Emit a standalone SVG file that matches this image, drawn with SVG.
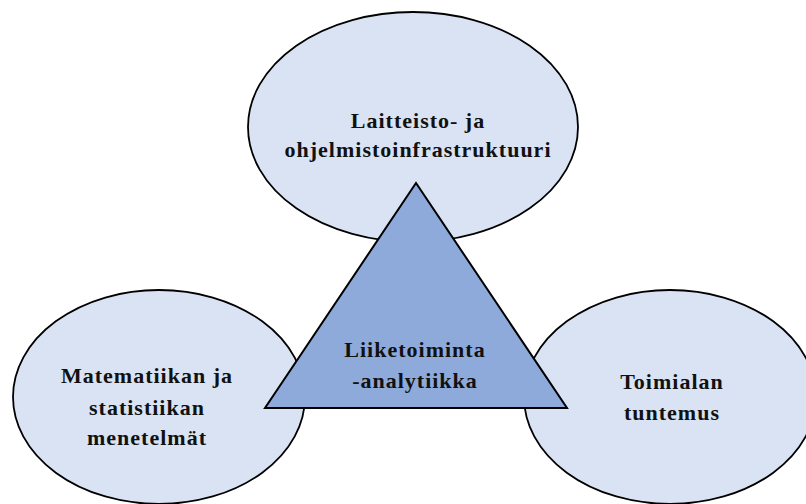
<svg xmlns="http://www.w3.org/2000/svg" width="806" height="504" viewBox="0 0 806 504">
<style>
.ell{fill:#dae3f3;stroke:#000;stroke-width:1.8}
.tri{fill:#8eaadb;stroke:#000;stroke-width:2;stroke-linejoin:miter}
.t{font-family:"Liberation Serif","Times New Roman",serif;font-weight:bold;font-size:22px;letter-spacing:1px;fill:#111;text-anchor:middle}
</style>
<rect width="806" height="504" fill="#fff"/>
<g id="node-top">
<ellipse class="ell" cx="413" cy="127" rx="165" ry="115"/>
<text class="t" x="418" y="128">Laitteisto- ja</text>
<text class="t" x="418" y="157">ohjelmistoinfrastruktuuri</text>
</g>
<g id="node-left">
<ellipse class="ell" cx="159" cy="397" rx="146" ry="107"/>
<text class="t" x="147" y="383">Matematiikan ja</text>
<text class="t" x="147" y="415">statistiikan</text>
<text class="t" x="147" y="445">menetelmät</text>
</g>
<g id="node-right">
<ellipse class="ell" cx="670" cy="397" rx="146" ry="107"/>
<text class="t" x="672" y="389">Toimialan</text>
<text class="t" x="672" y="420">tuntemus</text>
</g>
<g id="node-center">
<polygon class="tri" points="416,183 265,408 567,408"/>
<text class="t" x="415" y="357">Liiketoiminta</text>
<text class="t" x="415" y="388">-analytiikka</text>
</g>
<g id="connectors"></g>
</svg>
